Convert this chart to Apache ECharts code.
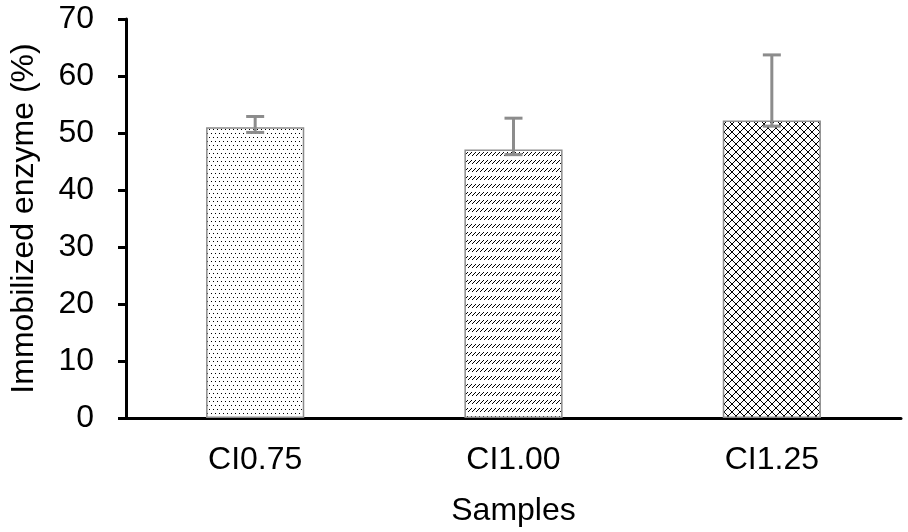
<!DOCTYPE html>
<html>
<head>
<meta charset="utf-8">
<script src="https://cdn.jsdelivr.net/npm/echarts@6/dist/echarts.min.js"></script>
<style>
html,body{margin:0;padding:0;background:#fff;}
#chart{width:908px;height:532px;}
</style>
</head>
<body>
<div id="chart"></div>
<script>
// ---- data ----
var categories = ['CI0.75', 'CI1.00', 'CI1.25'];
var values = [51.0, 47.1, 52.2];
var errLow = [50.1, 46.2, 51.2];
var errHigh = [52.9, 52.6, 63.7];
var yTicks = [0, 10, 20, 30, 40, 50, 60, 70];

// ---- patterns (style only) ----
function makeTile(w, h, pixels) {
  var c = document.createElement('canvas');
  c.width = w; c.height = h;
  var ctx = c.getContext('2d');
  ctx.fillStyle = '#fff';
  ctx.fillRect(0, 0, w, h);
  ctx.fillStyle = '#000';
  pixels.forEach(function (p) { ctx.fillRect(p[0], p[1], 1, 1); });
  return c;
}
var dotTile = makeTile(4, 8, [[1, 1], [3, 5]]);
var hatchTile = makeTile(4, 8, [[0, 3], [1, 2], [2, 1], [3, 0]]);
var crossPix = [];
for (var i = 0; i < 8; i++) { crossPix.push([i, i]); crossPix.push([7 - i, i]); }
var crossTile = makeTile(8, 8, crossPix);
var patterns = [dotTile, hatchTile, crossTile];

var font = '"Liberation Sans", Arial, sans-serif';
var chart = echarts.init(document.getElementById('chart'), null, {renderer: 'canvas'});

var barData = values.map(function (v, i) {
  return {
    value: v,
    itemStyle: {
      color: {image: patterns[i], repeat: 'repeat'},
      borderColor: '#8c8c8c',
      borderWidth: 1.5
    }
  };
});
var errData = categories.map(function (c, i) { return [i, errLow[i], errHigh[i]]; });

chart.setOption({
  animation: false,
  backgroundColor: '#fff',
  grid: {left: 121, right: 7, top: 19, bottom: 110},
  xAxis: {
    type: 'category',
    data: categories,
    name: 'Samples',
    nameLocation: 'middle',
    nameGap: 77,
    nameTextStyle: {fontFamily: font, fontSize: 32, color: '#000'},
    axisLine: {lineStyle: {color: '#000', width: 3}},
    axisTick: {show: false},
    axisLabel: {fontFamily: font, fontSize: 32, color: '#000', margin: 26}
  },
  yAxis: {
    type: 'value',
    min: yTicks[0],
    max: yTicks[yTicks.length - 1],
    interval: 10,
    name: 'Immobilized enzyme (%)',
    nameLocation: 'middle',
    nameGap: 86,
    nameTextStyle: {fontFamily: font, fontSize: 32, color: '#000'},
    axisLine: {show: true, lineStyle: {color: '#000', width: 3}},
    axisTick: {show: true, inside: false, length: 8, lineStyle: {color: '#000', width: 3}},
    splitLine: {show: false},
    axisLabel: {fontFamily: font, fontSize: 32, color: '#000', margin: 32}
  },
  series: [
    {
      type: 'bar',
      data: barData,
      barWidth: '38%'
    },
    {
      type: 'custom',
      data: errData,
      z: 5,
      renderItem: function (params, api) {
        var x = api.value(0);
        var lo = api.coord([x, api.value(1)]);
        var hi = api.coord([x, api.value(2)]);
        var half = 9;
        var st = {stroke: '#8c8c8c', lineWidth: 3};
        return {
          type: 'group',
          children: [
            {type: 'line', shape: {x1: lo[0], y1: lo[1], x2: hi[0], y2: hi[1]}, style: st},
            {type: 'line', shape: {x1: lo[0] - half, y1: lo[1], x2: lo[0] + half, y2: lo[1]}, style: st},
            {type: 'line', shape: {x1: hi[0] - half, y1: hi[1], x2: hi[0] + half, y2: hi[1]}, style: st}
          ]
        };
      }
    }
  ]
});
</script>
</body>
</html>
